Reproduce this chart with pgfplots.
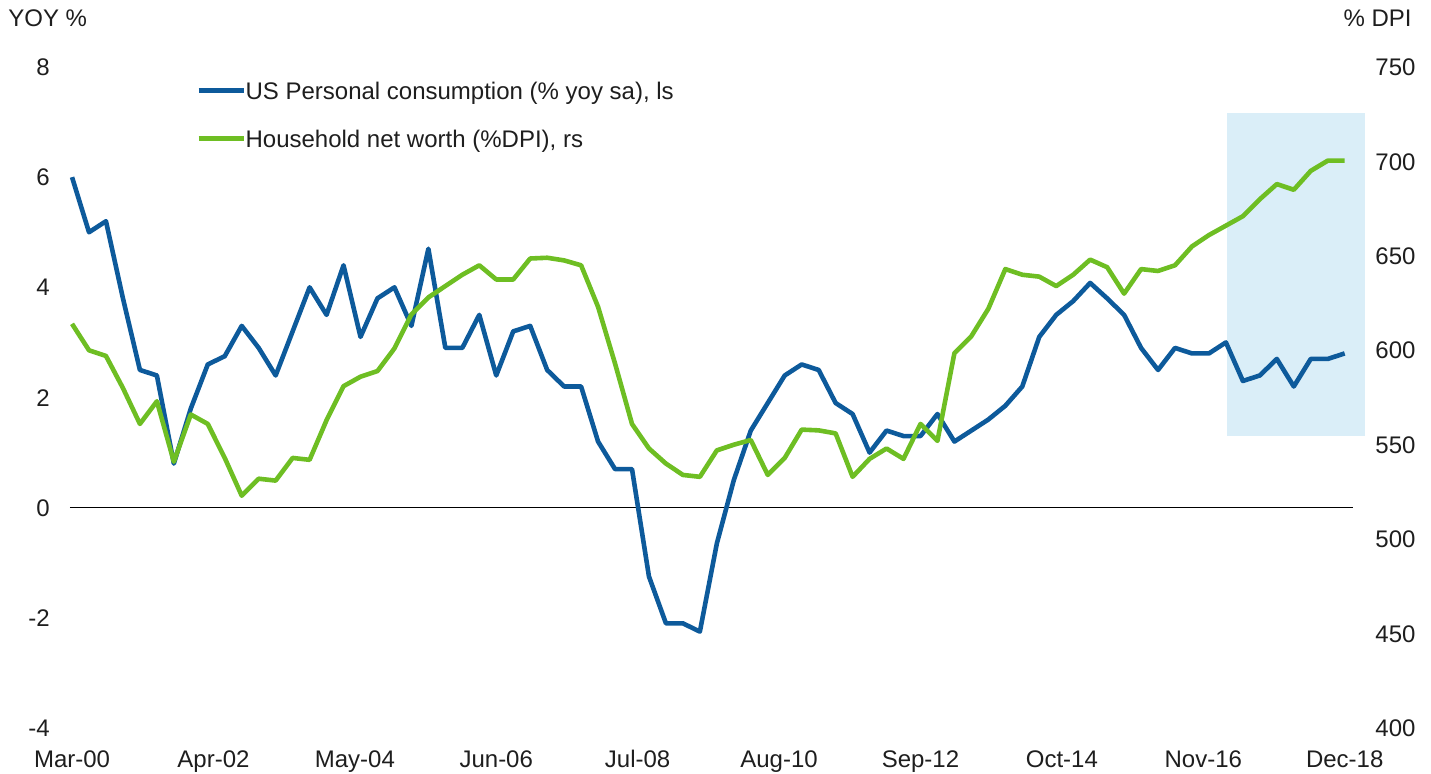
\documentclass[border=0pt]{standalone}
\usepackage{fontspec}
\setmainfont{Liberation Sans}
\usepackage{pgfplots}
\pgfplotsset{compat=1.18}
\definecolor{cblue}{RGB}{13,90,155}
\definecolor{cgreen}{RGB}{110,190,35}
\definecolor{cshade}{RGB}{218,238,248}
\definecolor{ctext}{RGB}{30,30,30}

\pgfplotstableread{
i v
0 6.0
1 5.0
2 5.2
3 3.8
4 2.5
5 2.4
6 0.8
7 1.8
8 2.6
9 2.75
10 3.3
11 2.9
12 2.4
13 3.2
14 4.0
15 3.5
16 4.4
17 3.1
18 3.8
19 4.0
20 3.3
21 4.7
22 2.9
23 2.9
24 3.5
25 2.4
26 3.2
27 3.3
28 2.5
29 2.2
30 2.2
31 1.2
32 0.7
33 0.7
34 -1.25
35 -2.1
36 -2.1
37 -2.25
38 -0.65
39 0.5
40 1.4
41 1.9
42 2.4
43 2.6
44 2.5
45 1.9
46 1.7
47 1.0
48 1.4
49 1.3
50 1.3
51 1.7
52 1.2
53 1.4
54 1.6
55 1.85
56 2.2
57 3.1
58 3.5
59 3.75
60 4.08
61 3.8
62 3.5
63 2.9
64 2.5
65 2.9
66 2.8
67 2.8
68 3.0
69 2.3
70 2.4
71 2.7
72 2.2
73 2.7
74 2.7
75 2.8
}\consumption

\pgfplotstableread{
i v
0 614
1 600
2 597
3 580
4 561
5 573
6 541
7 566
8 561
9 543
10 523
11 532
12 531
13 543
14 542
15 563
16 581
17 586
18 589
19 601
20 619
21 628
22 634
23 640
24 645
25 637.5
26 637.5
27 648.6
28 649
29 647.6
30 645
31 623
32 593
33 561
34 548
35 540
36 534
37 533
38 547
39 550
40 552.5
41 534
42 543
43 558
44 557.6
45 556
46 533
47 542.5
48 548
49 542.5
50 561
51 552
52 598.5
53 607.5
54 622
55 643
56 640
57 639
58 634
59 640
60 648
61 644
62 630
63 643
64 642
65 645
66 655
67 661
68 666
69 671
70 680
71 688
72 685
73 695
74 700.4
75 700.4
}\networth

\begin{document}
\begin{tikzpicture}[font=\fontsize{12}{14}\selectfont]
\useasboundingbox (-35pt,-22.5pt) rectangle (680.5pt,364pt);
\pgfplotsset{
  base/.style={
    scale only axis, width=641.5pt, height=330.5pt,
    xmin=-0.12, xmax=75.49,
    axis line style={draw=none}, tick style={draw=none},
    major tick length=0pt,
    clip=false,
    tick label style={font=\fontsize{12}{14}\selectfont, text=ctext},
  }
}
\begin{axis}[base,
  ymin=-4, ymax=8,
  ytick={-4,-2,0,2,4,6,8},
  yticklabels={-4,-2,0,2,4,6,8},
  yticklabel style={anchor=east, inner sep=0pt, xshift=-10pt, text height=8.6pt, text depth=0pt},
  xtick={0,8.3333,16.6667,25,33.3333,41.6667,50,58.3333,66.6667,75},
  xticklabels={Mar-00,Apr-02,May-04,Jun-06,Jul-08,Aug-10,Sep-12,Oct-14,Nov-16,Dec-18},
  xticklabel style={anchor=base, inner sep=0pt, yshift=-19.5pt},
  legend style={at={(0.0982,0.978)}, anchor=north west, draw=none, fill=none,
    inner sep=0pt, row sep=15.4pt, column sep=-0.5pt,
    nodes={inner sep=0pt, anchor=west, text height=8.6pt, text depth=0pt, text=ctext},
    font=\fontsize{12}{14}\selectfont},
  legend cell align=left,
  legend image code/.code={\draw[#1, line cap=butt] (0pt,0pt) -- (22.8pt,0pt);},
]
\fill[cshade] (axis cs:68.06,1.31) rectangle (axis cs:76.19,7.17);
\addplot[black, line width=0.8pt, forget plot] coordinates {(-0.12,0) (75.49,0)};
\addplot[cblue, line width=2.3pt, line join=round] table[x=i,y=v] {\consumption};
\addlegendentry{US Personal consumption (\% yoy sa), ls}
\addlegendimage{cgreen, line width=2.3pt}
\addlegendentry{Household net worth (\%DPI), rs}
\end{axis}
\begin{axis}[base,
  ymin=400, ymax=750,
  axis y line*=right, axis x line=none,
  ytick={400,450,...,750},
  yticklabels={400,450,500,550,600,650,700,750},
  yticklabel style={anchor=west, inner sep=0pt, xshift=11pt, text height=8.6pt, text depth=0pt},
]
\addplot[cgreen, line width=2.3pt, line join=round] table[x=i,y=v] {\networth};
\end{axis}
\node[anchor=base west, inner sep=0pt, text=ctext] at (-31pt,350.5pt) {YOY \%};
\node[anchor=base east, inner sep=0pt, text=ctext] at (671pt,350.5pt) {\% DPI};
\end{tikzpicture}
\end{document}
